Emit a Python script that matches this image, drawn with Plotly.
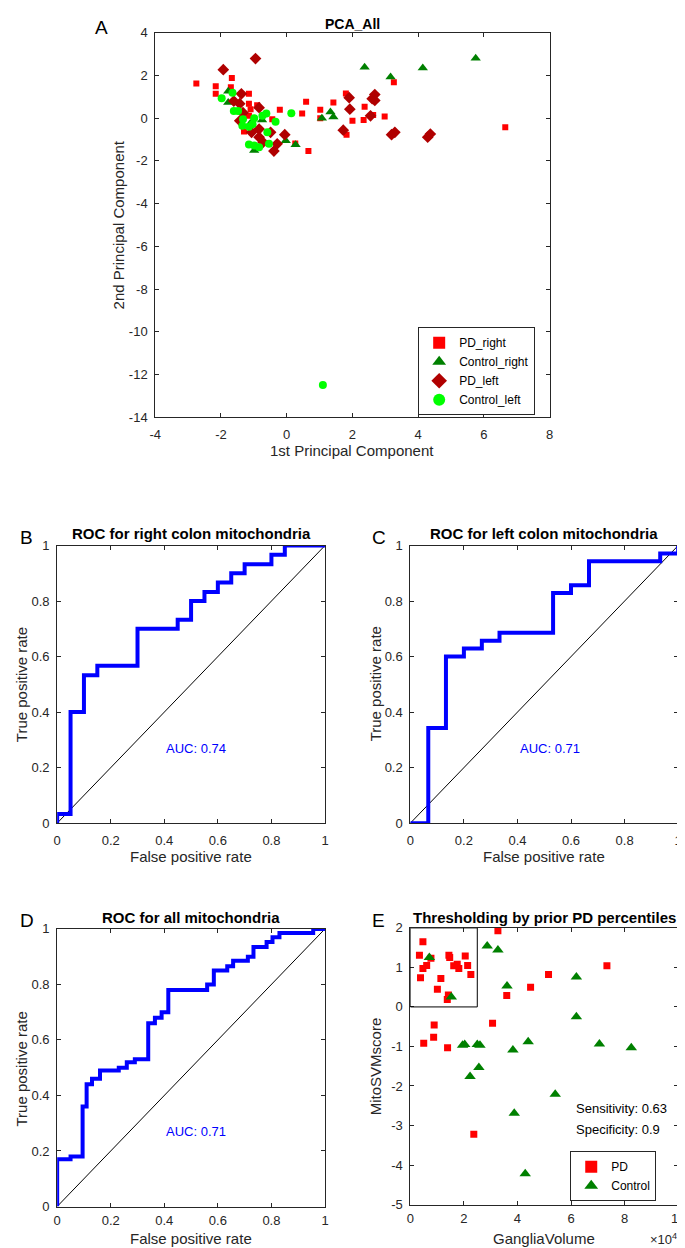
import plotly.graph_objects as go

W, H = 685, 1248

# ---- Panel A: PCA scores ----
pd_right_x = [-2.75, -2.16, -2.16, -1.67, -1.70, -1.15, -1.15, -0.90, -1.10, -1.15, -0.21, 0.47, 0.59, 1.02,
              1.02, 1.42, 1.80, 2.00, 1.82, 0.66, 0.26, -0.44, -1.30, 3.26, 2.37, 2.34, 2.63, 2.98, 6.65]
pd_right_y = [1.62, 1.50, 1.14, 1.88, 1.45, 1.14, 0.68, 0.60, 0.42, 0.11, 0.40, 0.22, 0.77, 0.40,
              0.00, 0.73, 1.16, -0.12, -0.77, -1.54, -1.19, -0.05, -0.62, 1.68, 0.54, -0.08, 0.15, 0.08, -0.43]
ctrl_right_x = [-1.78, -1.78, -0.75, -0.03, 0.27, -0.99, 1.07, 1.33, 1.42, 2.37, 3.16, 4.14, 5.75, -1.11]
ctrl_right_y = [1.26, 0.73, -0.08, -1.06, -1.25, -1.51, 0.00, 0.29, 0.06, 2.39, 1.93, 2.35, 2.81, -0.25]
pd_left_x = [-0.95, -1.93, -1.38, -1.61, -1.43, -1.33, -0.84, -0.84, -1.07, -0.84, -0.49, -0.29, -0.39, -0.06,
             -0.72, 1.72, 1.90, 1.92, -1.43, 2.60, 2.68, 2.68, 2.55, 3.19, 3.29, 4.29, 4.37]
pd_left_y = [2.79, 2.27, 1.14, 0.80, 0.68, 0.26, 0.49, -0.51, -0.66, -0.89, -0.66, -1.20, -1.54, -0.77,
             -1.13, -0.56, 0.96, 0.42, -0.12, 0.91, 1.11, 0.83, 0.11, -0.77, -0.66, -0.89, -0.74]
ctrl_left_x = [-1.98, -1.65, -1.61, -1.48, -1.33, -1.35, -1.15, -1.04, -0.99, -0.74, -0.62, -0.34, -0.59,
               -1.15, -0.99, -0.84, -0.54, 0.14, 1.10]
ctrl_left_y = [0.93, 1.19, 0.34, 0.34, -0.05, -0.36, -0.40, -0.28, 0.00, 0.11, 0.22, -0.17, -0.66,
               -1.23, -1.28, -1.36, -1.20, 0.23, -12.5]
pca_xticks = [-4, -2, 0, 2, 4, 6, 8]
pca_yticks = [-14, -12, -10, -8, -6, -4, -2, 0, 2, 4]

# ---- Panels B, C, D: ROC curves ----
roc_right_fpr = [0, 0, 0.05, 0.05, 0.10, 0.10, 0.15, 0.15, 0.30, 0.30, 0.45, 0.45, 0.50, 0.50, 0.55, 0.55,
                 0.60, 0.60, 0.65, 0.65, 0.70, 0.70, 0.80, 0.80, 0.85, 0.85, 1.0]
roc_right_tpr = [0, 0.033, 0.033, 0.40, 0.40, 0.533, 0.533, 0.567, 0.567, 0.70, 0.70, 0.733, 0.733, 0.80,
                 0.80, 0.833, 0.833, 0.867, 0.867, 0.90, 0.90, 0.933, 0.933, 0.967, 0.967, 1.0, 1.0]
roc_left_fpr = [0, 0.067, 0.067, 0.133, 0.133, 0.20, 0.20, 0.267, 0.267, 0.333, 0.333, 0.533, 0.533, 0.60,
                0.60, 0.667, 0.667, 0.933, 0.933, 1.0, 1.0]
roc_left_tpr = [0, 0, 0.343, 0.343, 0.60, 0.60, 0.629, 0.629, 0.657, 0.657, 0.686, 0.686, 0.829, 0.829,
                0.857, 0.857, 0.943, 0.943, 0.971, 0.971, 1.0]
roc_all_fpr = [0, 0, 0.05, 0.05, 0.095, 0.095, 0.11, 0.11, 0.13, 0.13, 0.16, 0.16, 0.23, 0.23, 0.26, 0.26,
               0.29, 0.29, 0.34, 0.34, 0.365, 0.365, 0.39, 0.39, 0.415, 0.415, 0.56, 0.56, 0.585, 0.585,
               0.635, 0.635, 0.657, 0.657, 0.712, 0.712, 0.733, 0.733, 0.782, 0.782, 0.804, 0.804, 0.83,
               0.83, 0.956, 0.956, 1.0]
roc_all_tpr = [0, 0.17, 0.17, 0.18, 0.18, 0.36, 0.36, 0.44, 0.44, 0.46, 0.46, 0.49, 0.49, 0.50, 0.50, 0.52,
               0.52, 0.53, 0.53, 0.66, 0.66, 0.68, 0.68, 0.70, 0.70, 0.78, 0.78, 0.80, 0.80, 0.85, 0.85,
               0.865, 0.865, 0.885, 0.885, 0.90, 0.90, 0.935, 0.935, 0.953, 0.953, 0.97, 0.97, 0.985, 0.985,
               1.0, 1.0]
chance_line = [0, 1]
auc_right, auc_left, auc_all = 0.74, 0.71, 0.71

# ---- Panel E: thresholding ----
pd_volume = [3400, 4700, 4700, 3800, 6100, 7700, 11400, 10100, 14400, 14700, 16200, 17500, 18100, 20500,
             21400, 22600, 14200, 13800, 32700, 36000, 44900, 51600, 73400, 30700, 8900, 8700, 5000,
             13900, 23700]
pd_score = [1.31, 1.65, 0.97, 0.74, 1.05, 1.23, 0.72, 0.45, 1.31, 1.25, 1.04, 1.08, 0.97, 1.29,
            1.05, 0.82, 0.30, 0.19, 1.93, 0.29, 0.50, 0.82, 1.04, -0.41, -0.46, -0.77, -0.92,
            -1.03, -3.22]
ctrl_volume = [7100, 15300, 28700, 32700, 36100, 62000, 62000, 19500, 20300, 25000, 26000, 22300, 25600,
               38300, 44000, 70600, 82500, 54100, 38800, 42900]
ctrl_score = [1.25, 0.25, 1.54, 1.44, 0.53, 0.76, -0.25, -0.97, -0.95, -0.95, -0.97, -1.76, -1.53,
              -1.09, -0.88, -0.94, -1.03, -2.21, -2.69, -4.22]
threshold_volume, threshold_score_lo, threshold_score_hi = 25000, 0, 2
sensitivity, specificity = 0.63, 0.9
vol_ticks = [0, 20000, 40000, 60000, 80000, 100000]
vol_ticktext = ["0", "2", "4", "6", "8", "10"]
score_ticks = [-5, -4, -3, -2, -1, 0, 1, 2]

FONT = "Liberation Sans, Arial, sans-serif"
INK = "#262626"


def px(x):
    return x / W


def py(y):
    return 1 - y / H


def axis(dom, **kw):
    d = dict(domain=dom, showline=True, linecolor=INK, linewidth=1, mirror="ticks", ticks="inside",
             ticklen=4, tickcolor=INK, showgrid=False, zeroline=False,
             tickfont=dict(size=13, color=INK, family=FONT))
    d.update(kw)
    return d


fig = go.Figure()

# A
mk = dict(mode="markers", xaxis="x", yaxis="y", legend="legend")
fig.add_trace(go.Scatter(x=pd_right_x, y=pd_right_y, name="PD_right",
                         marker=dict(symbol="square", size=6, color="#ff0000"), **mk))
fig.add_trace(go.Scatter(x=ctrl_right_x, y=ctrl_right_y, name="Control_right",
                         marker=dict(symbol="triangle-up", size=9, color="#008000"), **mk))
fig.add_trace(go.Scatter(x=pd_left_x, y=pd_left_y, name="PD_left",
                         marker=dict(symbol="diamond", size=9, color="#b00000"), **mk))
fig.add_trace(go.Scatter(x=ctrl_left_x, y=ctrl_left_y, name="Control_left",
                         marker=dict(symbol="circle", size=8, color="#00ff00"), **mk))

# ROC panels
for fpr, tpr, n in [(roc_right_fpr, roc_right_tpr, 2), (roc_left_fpr, roc_left_tpr, 3),
                    (roc_all_fpr, roc_all_tpr, 4)]:
    fig.add_trace(go.Scatter(x=chance_line, y=chance_line, mode="lines", line=dict(color="black", width=1),
                             xaxis=f"x{n}", yaxis=f"y{n}", showlegend=False))
    fig.add_trace(go.Scatter(x=fpr, y=tpr, mode="lines", line=dict(color="#0000ff", width=4),
                             xaxis=f"x{n}", yaxis=f"y{n}", showlegend=False))

# E
fig.add_trace(go.Scatter(x=pd_volume, y=pd_score, name="PD", mode="markers", xaxis="x5", yaxis="y5",
                         legend="legend2", marker=dict(symbol="square", size=7, color="#ff0000")))
fig.add_trace(go.Scatter(x=ctrl_volume, y=ctrl_score, name="Control", mode="markers", xaxis="x5", yaxis="y5",
                         legend="legend2", marker=dict(symbol="triangle-up", size=10, color="#008000")))
fig.add_shape(type="rect", xref="x5", yref="y5", x0=0, x1=threshold_volume,
              y0=threshold_score_lo, y1=threshold_score_hi, line=dict(color="black", width=1))

ann = []


def text(x, y, s, size=13, bold=False, color=INK, angle=0, xanchor="center", xref="paper", yref="paper",
         yanchor="middle"):
    if bold:
        s = f"<b>{s}</b>"
    ann.append(dict(x=x, y=y, xref=xref, yref=yref, text=s, showarrow=False, textangle=angle,
                    xanchor=xanchor, yanchor=yanchor, borderpad=0,
                    font=dict(size=size, color=color, family=FONT)))


# titles
text(px(345), py(9), "PCA_All", 14, True, "black")
text(px(180.5), py(525), "ROC for right colon mitochondria", 15, True, "black")
text(px(540.5), py(525), "ROC for left colon mitochondria", 15, True, "black")
text(px(180.5), py(913), "ROC for all mitochondria", 15, True, "black")
text(px(540.5), py(913), "Thresholding by prior PD percentiles", 15, True, "black")
# panel letters
for lx, ly, s in [(89, 13, "A"), (13, 529, "B"), (372, 529, "C"), (13, 917, "D"), (372, 917, "E")]:
    text(px(lx), py(ly), s, 19, False, "black")
# axis titles
text(px(345), py(441), "1st Principal Component", 15)
text(px(106), py(212), "2nd Principal Component", 15, angle=-90)
for cx, cy_y, yx in [(180.5, 677.5, 8), (540.5, 677.5, 368)]:
    text(px(cx), py(852), "False positive rate", 15)
    text(px(yx), py(cy_y), "True positive rate", 15, angle=-90)
text(px(180.5), 0, "False positive rate", 15, yanchor="bottom")
text(px(8), py(1066.5), "True positive rate", 15, angle=-90)
text(px(540.5), 0, "GangliaVolume", 15, yanchor="bottom")
text(px(368), py(1064), "MitoSVMscore", 15, angle=-90)
text(px(677), 0, "×10<sup>4</sup>", 13, xanchor="right", yanchor="bottom")
# AUC and threshold stats
text(0.52, 0.27, f"AUC: {auc_right}", 13, color="#0000ff", xref="x2", yref="y2")
text(0.52, 0.27, f"AUC: {auc_left}", 13, color="#0000ff", xref="x3", yref="y3")
text(0.52, 0.27, f"AUC: {auc_all}", 13, color="#0000ff", xref="x4", yref="y4")
text(61500, -2.57, f"Sensitivity: {sensitivity}", 13, color="black", xanchor="left", xref="x5", yref="y5")
text(61500, -3.1, f"Specificity: {specificity}", 13, color="black", xanchor="left", xref="x5", yref="y5")

roc_ticks = [0, 0.2, 0.4, 0.6, 0.8, 1]
roc_x = dict(range=[0, 1], tickvals=roc_ticks, ticklabelstandoff=5)
roc_y = dict(range=[0, 1], tickvals=roc_ticks, ticklabelstandoff=4)

legend_style = dict(bgcolor="white", bordercolor=INK, borderwidth=1, xanchor="left", yanchor="top",
                    font=dict(size=12, color="black", family=FONT), tracegroupgap=0, itemsizing="constant")

fig.update_layout(
    width=W, height=H, margin=dict(l=0, r=0, t=0, b=0),
    paper_bgcolor="white", plot_bgcolor="white",
    font=dict(family=FONT, color=INK),
    showlegend=True,
    xaxis=axis([px(144), px(546)], anchor="y", range=[-4, 8], tickvals=pca_xticks,
               ticktext=[str(v) for v in pca_xticks], ticklabelstandoff=5),
    yaxis=axis([py(407), py(18)], anchor="x", range=[-14, 4], tickvals=pca_yticks,
               ticktext=[str(v) for v in pca_yticks], ticklabelstandoff=4),
    xaxis2=axis([px(44), px(317)], anchor="y2", **roc_x),
    yaxis2=axis([py(818), py(537)], anchor="x2", **roc_y),
    xaxis3=axis([px(404), px(677)], anchor="y3", **roc_x),
    yaxis3=axis([py(818), py(537)], anchor="x3", **roc_y),
    xaxis4=axis([px(44), px(317)], anchor="y4", range=[0, 1], tickvals=roc_ticks, ticklabelstandoff=2),
    yaxis4=axis([py(1206), py(925)], anchor="x4", **roc_y),
    xaxis5=axis([px(404), px(677)], anchor="y5", range=[0, 100000], tickvals=vol_ticks,
                ticktext=vol_ticktext, ticklabelstandoff=2),
    yaxis5=axis([py(1204), py(924)], anchor="x5", range=[-5, 2], tickvals=score_ticks,
                ticktext=[str(v) for v in score_ticks], ticklabelstandoff=4),
    legend=dict(x=px(412), y=py(316), **legend_style),
    legend2=dict(x=px(567), y=py(1150), **legend_style),
    annotations=ann,
)

fig.write_html("out.html")
